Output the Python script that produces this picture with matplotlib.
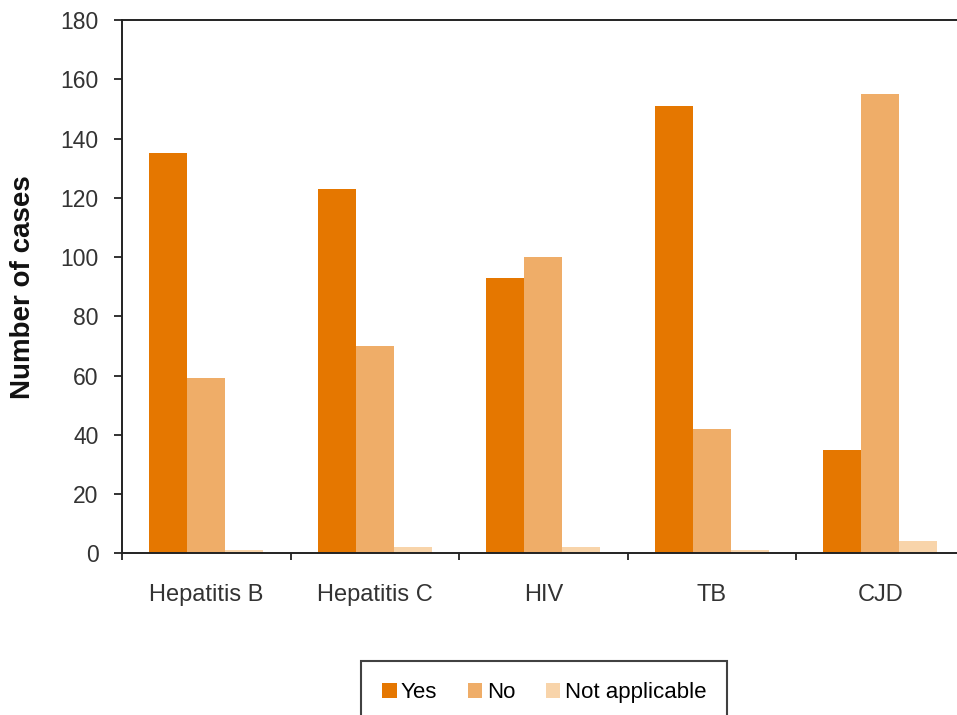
import numpy as np
import matplotlib.pyplot as plt

# data
diseases = ['Hepatitis B', 'Hepatitis C', 'HIV', 'TB', 'CJD']
yes_cases = [135, 123, 93, 151, 35]
no_cases = [59, 70, 100, 42, 155]
na_cases = [1, 2, 2, 1, 4]
series_names = ['Yes', 'No', 'Not applicable']
yticks = [0, 20, 40, 60, 80, 100, 120, 140, 160, 180]

colors = ['#E57700', '#EFAD68', '#F8D4AA']
plt.rcParams['font.family'] = ['Liberation Sans', 'DejaVu Sans']

fig = plt.figure(figsize=(9.57, 7.15), dpi=100)
# axes run past the right edge, like the cropped original
ax = fig.add_axes([122 / 957, 161.7 / 715, 842.5 / 957, 533.3 / 715])

x = np.arange(len(diseases))
w = 0.226
bars = []
for i, (vals, c) in enumerate(zip([yes_cases, no_cases, na_cases], colors)):
    b = ax.bar(x + (i - 1) * w, vals, w, color=c, edgecolor='none', label=series_names[i])
    bars.append(b)

ax.set_xlim(-0.5, len(diseases) - 0.5)
ax.set_ylim(0, 180)
ax.set_yticks(yticks)
ax.tick_params(axis='y', direction='out', length=6, width=1.3, pad=11,
               labelsize=16.5, labelcolor='#333333', color='#222222')

# ticks at group boundaries, labels at group centres
ax.set_xticks(np.arange(len(diseases) + 1) - 0.5)
ax.set_xticklabels([])
ax.tick_params(axis='x', which='major', direction='out', length=5, width=1.3, color='#222222')
ax.set_xticks(x, minor=True)
ax.set_xticklabels(diseases, minor=True)
ax.tick_params(axis='x', which='minor', length=0, pad=22, labelsize=17, labelcolor='#333333')

for s in ['left', 'bottom', 'top']:
    ax.spines[s].set_linewidth(1.4)
    ax.spines[s].set_color('#222222')
ax.spines['right'].set_visible(False)

fig.text(23 / 957, 1 - 287.5 / 715, 'Number of cases', rotation=90, fontsize=20,
         fontweight='bold', color='#111111', ha='center', va='center')

leg = fig.legend(handles=bars, labels=series_names, loc='upper left',
                 bbox_to_anchor=(361 / 957, 1 - 661 / 715), ncol=3, fontsize=16,
                 frameon=True, fancybox=False, edgecolor='#111111', borderpad=0.95,
                 handlelength=0.65, handleheight=0.65, handletextpad=0.2,
                 columnspacing=1.38, borderaxespad=0)
leg.get_frame().set_linewidth(1.5)

fig.savefig('out.png', dpi=100)
